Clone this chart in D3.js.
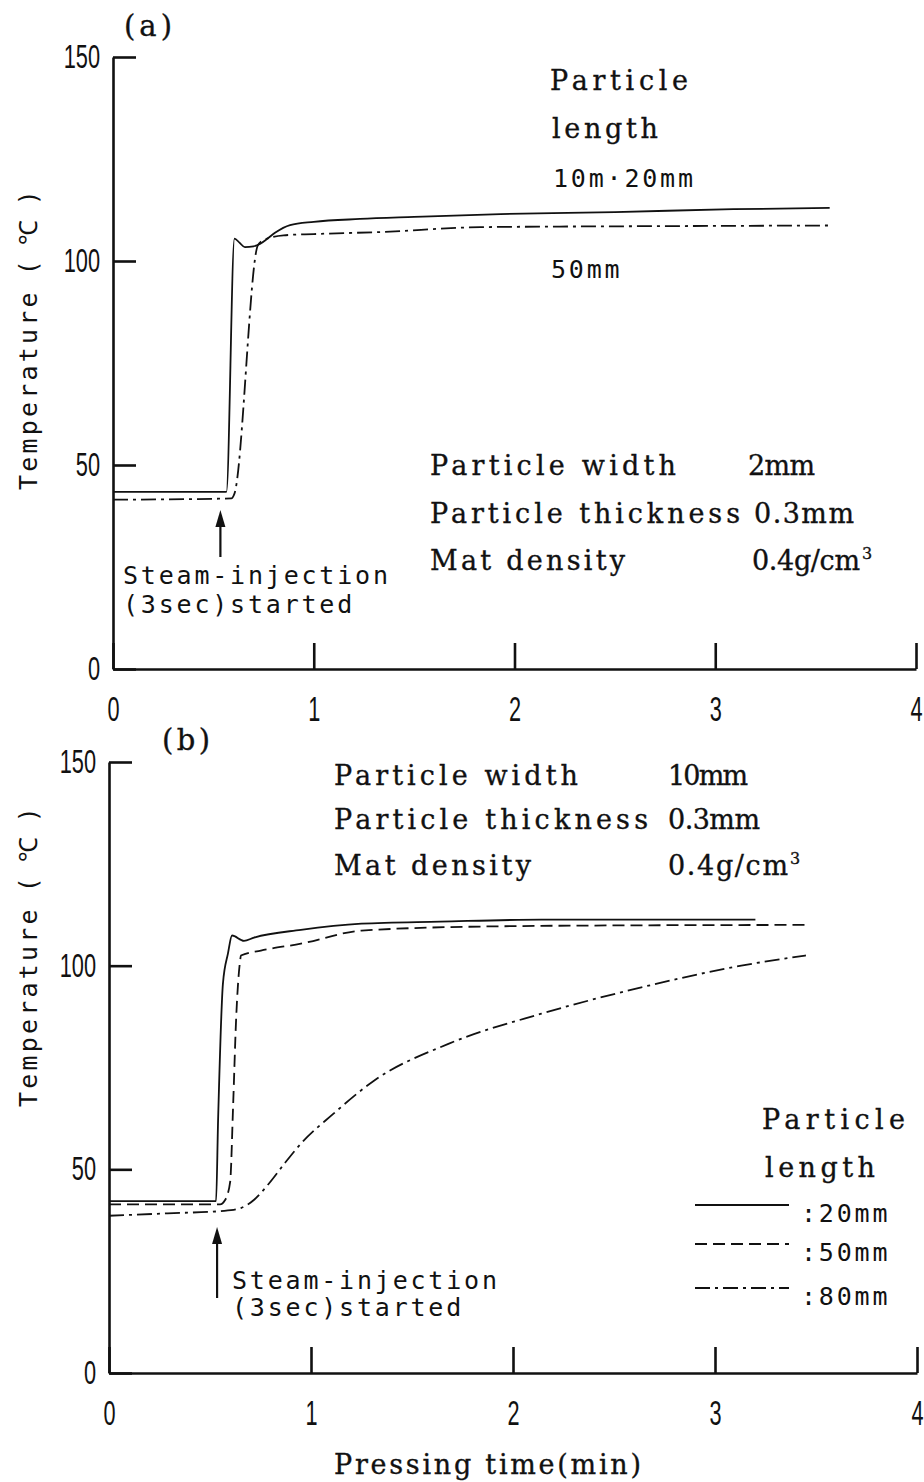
<!DOCTYPE html>
<meta charset="utf-8">
<html>
<head>
<script src="https://cdn.jsdelivr.net/npm/d3@7"></script>
<style>
  body { margin: 0; background: #fff; }
  .serif { font-family: "DejaVu Serif", "Liberation Serif", serif; font-size: 27px; fill: #111; stroke: #111; stroke-width: 0.35px; }
  .mono { font-family: "DejaVu Sans Mono", monospace; font-size: 25px; letter-spacing: 2.8px; fill: #111; }
  .axis text { font-family: "Liberation Sans", sans-serif; fill: #111; transform-box: fill-box; }
  .axis.x text { font-size: 35px; transform-origin: 50% 50%; transform: scaleX(0.62); }
  .axis.y text { font-size: 33px; transform-origin: 100% 50%; transform: scaleX(0.66); }
  .axis path, .axis line { stroke: #111; stroke-width: 2.6px; }
</style>
</head>
<body>
<div id="chart"></div>
<script>
// ticks
var timeTicks = [0, 1, 2, 3, 4];
var tempTicks = [0, 50, 100, 150];
var steamStart = 0.535;   // min, where the arrow points

// panel (a): particle width 2mm
var aTime20 = [0, 0.565, 0.605, 0.63, 0.657, 0.70, 0.732, 0.77, 0.807, 0.882, 1.0, 1.23, 1.5, 1.93, 2.5, 3.09, 3.57];
var aTemp20 = [43.4, 43.4, 105.5, 104.5, 103.4, 103.6, 104.2, 105.5, 106.9, 108.8, 109.6, 110.3, 110.8, 111.5, 112.0, 112.7, 113.0];
var aTime50 = [0, 0.59, 0.605, 0.722, 0.75, 0.85, 1.0, 1.33, 1.83, 2.5, 3.0, 3.57];
var aTemp50 = [41.5, 41.8, 43.0, 103.9, 105.1, 106.3, 106.6, 107.1, 108.3, 108.5, 108.6, 108.7];

// panel (b): particle width 10mm
var bTime20 = [0, 0.53, 0.54, 0.564, 0.589, 0.609, 0.668, 0.718, 0.95, 1.25, 1.64, 2.14, 3.2];
var bTemp20 = [42.2, 42.2, 62, 95.6, 103, 107.4, 106.1, 106.9, 108.8, 110.3, 110.8, 111.3, 111.3];
var bTime50 = [0, 0.55, 0.574, 0.60, 0.614, 0.629, 0.649, 0.653, 0.752, 0.95, 1.25, 1.84, 2.6, 3.45];
var bTemp50 = [41.4, 41.4, 42.4, 47, 65, 86.5, 101.2, 102.5, 103.7, 105.4, 108.6, 109.6, 109.9, 110];
var bTime80 = [0, 0.29, 0.57, 0.653, 0.72, 0.79, 0.87, 0.95, 1.11, 1.31, 1.68, 2.14, 2.63, 3.13, 3.45];
var bTemp80 = [38.6, 39.2, 39.8, 40.5, 42.6, 46.4, 51.5, 56.3, 63.6, 71.7, 80.8, 88.2, 94.6, 100, 102.5];

var DASH = "12,6";
var DASHDOT = "15,5,3,5";

var svg = d3.select("#chart").append("svg")
  .attr("width", 924).attr("height", 1482);

function zip(t, v) { return t.map(function (d, i) { return [d, v[i]]; }); }

function drawPanel(xRange, yRange, series) {
  var x = d3.scaleLinear().domain([0, 4]).range(xRange);
  var y = d3.scaleLinear().domain([0, 150]).range(yRange);
  var g = svg.append("g");

  g.append("g").attr("class", "axis x")
    .attr("transform", "translate(0," + y(0) + ")")
    .call(d3.axisBottom(x).tickValues(timeTicks).tickSize(-26).tickSizeOuter(0)
      .tickPadding(27).tickFormat(d3.format("d")));

  g.append("g").attr("class", "axis y")
    .attr("transform", "translate(" + x(0) + ",0)")
    .call(d3.axisLeft(y).tickValues(tempTicks).tickSize(-23).tickSizeOuter(0)
      .tickPadding(13));

  var line = d3.line()
    .x(function (d) { return x(d[0]); })
    .y(function (d) { return y(d[1]); })
    .curve(d3.curveMonotoneX);

  series.forEach(function (s) {
    g.append("path")
      .attr("d", line(zip(s.t, s.v)))
      .attr("fill", "none")
      .attr("stroke", "#111")
      .attr("stroke-width", 1.8)
      .attr("stroke-dasharray", s.dash);
  });
  return { x: x, y: y, g: g };
}

function txt(cls, x, y, s, anchor) {
  return svg.append("text").attr("class", cls)
    .attr("x", x).attr("y", y)
    .attr("text-anchor", anchor || "start")
    .text(s);
}

// typewriter-ish serif text stretched to the width seen in the figure
function stxt(x, y, s, w, anchor) {
  return txt("serif", x, y, s, anchor)
    .attr("textLength", w).attr("lengthAdjust", "spacing");
}

function density(x, y, w) {
  stxt(x, y, "0.4g/cm", w);
  svg.append("text").attr("class", "serif")
    .attr("x", x + w + 2).attr("y", y - 11)
    .style("font-size", "16px").text("3");
}

function arrow(x, yTop, yBottom) {
  svg.append("line").attr("x1", x).attr("x2", x)
    .attr("y1", yTop + 10).attr("y2", yBottom)
    .attr("stroke", "#111").attr("stroke-width", 2.2);
  svg.append("path")
    .attr("d", "M" + x + "," + yTop + " L" + (x - 5) + "," + (yTop + 17) + " L" + (x + 5) + "," + (yTop + 17) + "Z")
    .attr("fill", "#111");
}

function yTitle(x, y) {
  svg.append("text").attr("class", "mono")
    .attr("transform", "translate(" + x + "," + y + ") rotate(-90)")
    .style("font-size", "25px")
    .style("letter-spacing", "3.2px")
    .text("Temperature")
    .append("tspan").attr("dx", 14).style("letter-spacing", "15px").text("(℃)");
}

// ---- panel (a)
var pa = drawPanel([113, 916], [669, 57], [
  { t: aTime20, v: aTemp20, dash: null },
  { t: aTime50, v: aTemp50, dash: DASHDOT }
]);

stxt(124, 36, "(a)", 48).style("font-size", "29px");
yTitle(37, 490);
stxt(550, 90, "Particle", 138);
stxt(552, 138, "length", 106);
txt("mono", 553, 187, "10m·20mm");
txt("mono", 551, 278, "50mm");

stxt(430, 475, "Particle width", 246);
stxt(748, 475, "2mm", 67);
stxt(430, 523, "Particle thickness", 310);
stxt(754, 523, "0.3mm", 100);
stxt(430, 570, "Mat density", 195);
density(752, 570, 108);

arrow(pa.x(steamStart), 510, 557);
txt("mono", 123, 584, "Steam-injection");
txt("mono", 123, 613, "(3sec)started");

// ---- panel (b)
var pb = drawPanel([109, 917], [1373, 762], [
  { t: bTime20, v: bTemp20, dash: null },
  { t: bTime50, v: bTemp50, dash: DASH },
  { t: bTime80, v: bTemp80, dash: DASHDOT }
]);

stxt(162, 750, "(b)", 48).style("font-size", "29px");
yTitle(37, 1107);

stxt(334, 785, "Particle width", 244);
stxt(668, 785, "10mm", 80);
stxt(334, 829, "Particle thickness", 314);
stxt(668, 829, "0.3mm", 92);
stxt(334, 875, "Mat density", 197);
density(668, 875, 120);

arrow(pb.x(steamStart), 1227, 1298);
txt("mono", 232, 1289, "Steam-injection");
txt("mono", 232, 1316, "(3sec)started");

// legend
stxt(762, 1129, "Particle", 143);
stxt(765, 1177, "length", 110);
var legend = [
  { label: ":20mm", dash: null, y: 1205 },
  { label: ":50mm", dash: DASH, y: 1244 },
  { label: ":80mm", dash: DASHDOT, y: 1288 }
];
legend.forEach(function (d) {
  svg.append("line").attr("x1", 695).attr("x2", 789)
    .attr("y1", d.y).attr("y2", d.y)
    .attr("stroke", "#111").attr("stroke-width", 1.8)
    .attr("stroke-dasharray", d.dash);
  txt("mono", 801, d.y + 17, d.label);
});

stxt(334, 1474, "Pressing time(min)", 307);
</script>
</body>
</html>
